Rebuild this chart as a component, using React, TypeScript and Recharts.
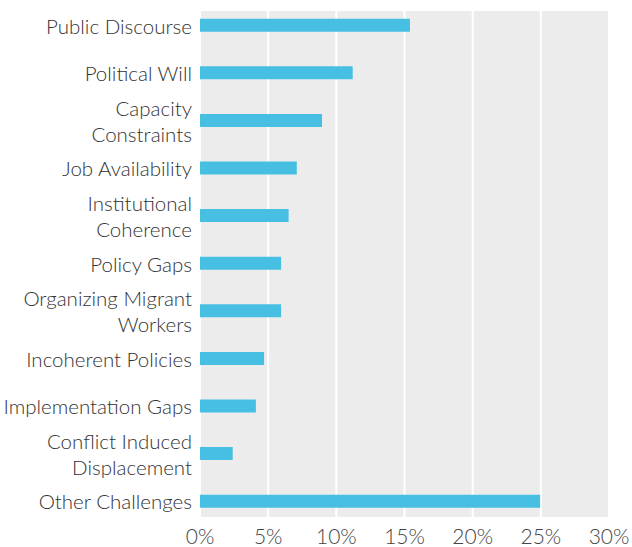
import { BarChart, Bar, XAxis, YAxis, CartesianGrid } from "recharts"

// categories top to bottom, "\n" marks a line break in the label
const categories = [
  "Public Discourse",
  "Political Will",
  "Capacity\nConstraints",
  "Job Availability",
  "Institutional\nCoherence",
  "Policy Gaps",
  "Organizing Migrant\nWorkers",
  "Incoherent Policies",
  "Implementation Gaps",
  "Conflict Induced\nDisplacement",
  "Other Challenges",
]

// share of responses (%)
const shares = [15.4, 11.2, 8.95, 7.1, 6.5, 5.95, 5.95, 4.7, 4.1, 2.4, 24.95]

const xTicks = [0, 5, 10, 15, 20, 25, 30]

const data = categories.map((name, i) => ({ idx: i, name, share: shares[i] }))

const FONT = "Lato, 'Open Sans', sans-serif"

function CategoryTick(props: any) {
  const { x, y, payload } = props
  const lines = (categories[payload.value] || "").split("\n")
  const lineHeight = 26
  const startDy = -((lines.length - 1) * lineHeight) / 2
  return (
    <text
      x={x}
      y={y}
      textAnchor="end"
      fill="#333"
      fontFamily={FONT}
      fontWeight={300}
      fontSize={20.5}
    >
      {lines.map((line: string, i: number) => (
        <tspan key={i} x={x} dy={i === 0 ? startDy : lineHeight} dominantBaseline="central">
          {line}
        </tspan>
      ))}
    </text>
  )
}

export default function App() {
  return (
    <div style={{ position: "absolute", left: 0, top: 0, background: "#fff" }}>
      <BarChart
        width={632}
        height={547}
        data={data}
        layout="vertical"
        margin={{ top: 11, right: 23, bottom: 0, left: 0 }}
      >
        <CartesianGrid
          horizontal={false}
          vertical={true}
          stroke="#ffffff"
          strokeWidth={2}
          fill="#ececec"
          fillOpacity={1}
        />
        <XAxis
          type="number"
          domain={[0, 30]}
          ticks={xTicks}
          tickFormatter={(v) => `${v}%`}
          axisLine={false}
          tickLine={false}
          tickSize={0}
          tickMargin={12}
          height={30}
          tick={{ fill: "#444", fontFamily: FONT, fontWeight: 300, fontSize: 21 }}
          interval={0}
        />
        <YAxis
          type="number"
          dataKey="idx"
          domain={[-0.305, 10.326]}
          ticks={categories.map((_, i) => i)}
          width={200}
          axisLine={false}
          tickLine={false}
          tickSize={0}
          tickMargin={8}
          interval={0}
          allowDataOverflow
          tick={<CategoryTick />}
        />
        <Bar dataKey="share" fill="#47bfe2" barSize={13} isAnimationActive={false} />
      </BarChart>
    </div>
  )
}
